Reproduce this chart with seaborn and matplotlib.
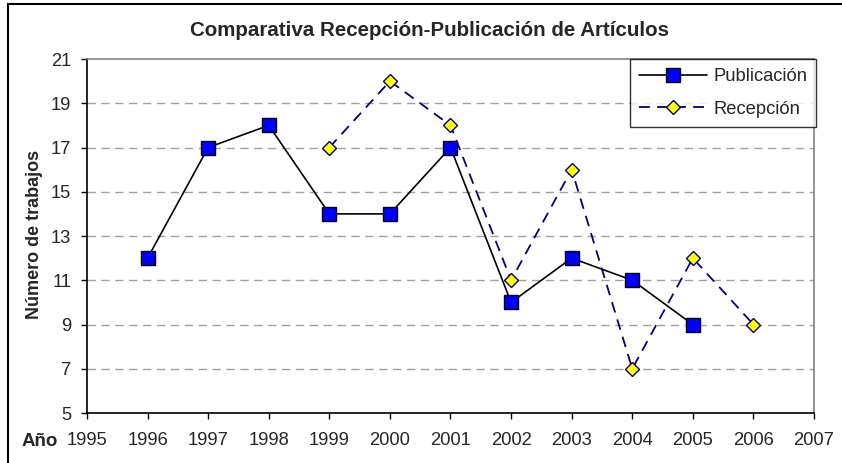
import matplotlib
matplotlib.use("Agg")
import matplotlib.pyplot as plt
import seaborn as sns
import pandas as pd
from matplotlib.patches import Rectangle

years_pub = [1996, 1997, 1998, 1999, 2000, 2001, 2002, 2003, 2004, 2005]
publicacion = [12, 17, 18, 14, 14, 17, 10, 12, 11, 9]
years_rec = [1999, 2000, 2001, 2002, 2003, 2004, 2005, 2006]
recepcion = [17, 20, 18, 11, 16, 7, 12, 9]
x_ticks = list(range(1995, 2008))
y_ticks = list(range(5, 22, 2))

sns.set_theme(style="white")
plt.rcParams['font.family'] = ['Liberation Sans', 'DejaVu Sans']

fig = plt.figure(figsize=(8.42, 4.63), dpi=100)
ax = fig.add_axes([87/842, 1-413/463, (814-87)/842, (413-59)/463])

df_pub = pd.DataFrame({"Año": years_pub, "n": publicacion})
df_rec = pd.DataFrame({"Año": years_rec, "n": recepcion})

sns.lineplot(data=df_pub, x="Año", y="n", ax=ax, color="black", lw=1.2,
             marker="s", markersize=10.5, markerfacecolor="#0000FF",
             markeredgecolor="black", markeredgewidth=1.0, label="Publicación", zorder=3)
sns.lineplot(data=df_rec, x="Año", y="n", ax=ax, color="#000080", lw=1.3,
             linestyle=(0, (6, 4)), marker="D", markersize=7,
             markerfacecolor="#FFFF00", markeredgecolor="#000080",
             markeredgewidth=1.0, label="Recepción", zorder=3)

ax.set_xlim(1995, 2007)
ax.set_ylim(5, 21)
ax.set_xticks(x_ticks)
ax.set_yticks(y_ticks)
ax.set_xticklabels([str(v) for v in x_ticks], fontsize=13.2)
ax.set_yticklabels([str(v) for v in y_ticks], fontsize=13.2)
ax.tick_params(axis='both', direction='out', length=4.3, width=1, color='black',
               bottom=True, left=True)
ax.tick_params(axis='y', pad=7.2)
ax.tick_params(axis='x', pad=9.5)

for v in y_ticks[1:-1]:
    ax.axhline(v, color='#a0a0a0', lw=1, linestyle=(0, (6, 4)), zorder=1)

for s in ['left', 'bottom']:
    ax.spines[s].set_color('black')
    ax.spines[s].set_linewidth(1.2)
for s in ['top', 'right']:
    ax.spines[s].set_color('#808080')
    ax.spines[s].set_linewidth(1.2)

ax.set_xlabel("")
ax.set_ylabel("")
fig.text(35/842, 1-234/463, "Número de trabajos", fontsize=13, fontweight='bold',
         rotation=90, ha='center', va='center')
fig.text(22/842, 1-441/463, "Año", fontsize=13.5, fontweight='bold', va='center', ha='left')
fig.text(429/842, 1-30/463, "Comparativa Recepción-Publicación de Artículos",
         fontsize=14.8, fontweight='bold', ha='center', va='center')

leg = ax.legend(loc='upper right', bbox_to_anchor=(1.003, 1.0), fontsize=13.2,
                frameon=True, fancybox=False, edgecolor='black', handlelength=3.7,
                handletextpad=0.35, borderpad=0.5, labelspacing=0.85, borderaxespad=0)
leg.get_frame().set_linewidth(1.0)

fig.patches.append(Rectangle((8/842, -0.1), 1.2, 1-4/463+0.1, transform=fig.transFigure,
                             fill=False, edgecolor='black', lw=1.5))

fig.savefig("out.png", dpi=100)
